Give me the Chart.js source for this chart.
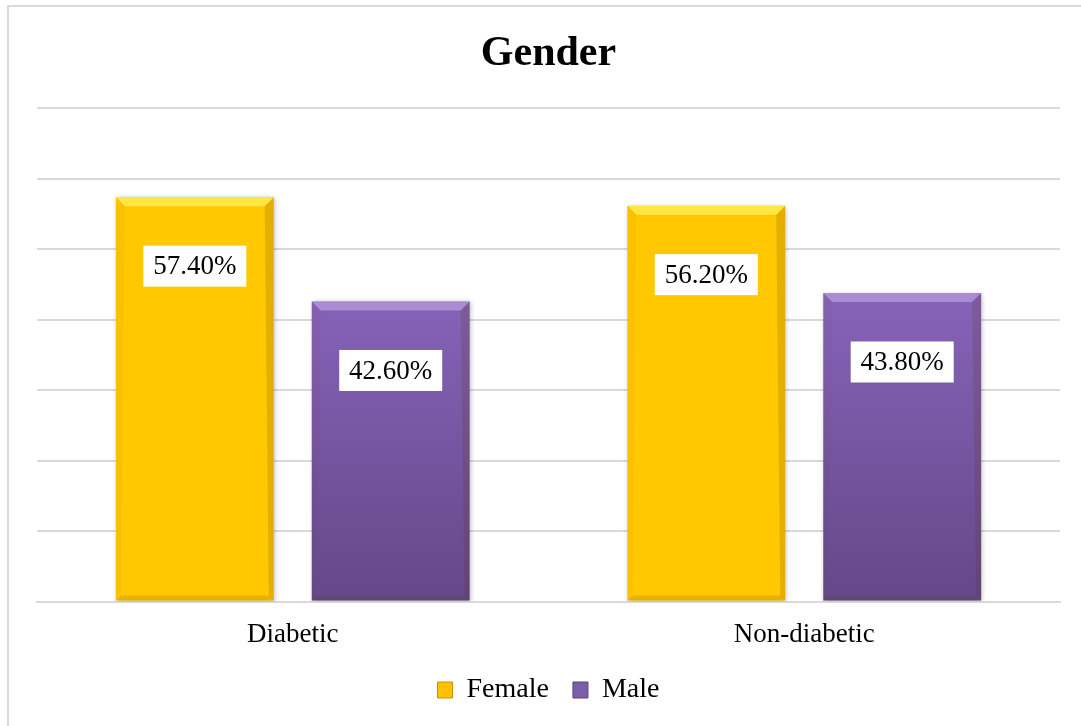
<!DOCTYPE html>
<html>
<head>
<meta charset="utf-8">
<title>Gender</title>
<script src="https://cdn.jsdelivr.net/npm/chart.js@4.4.1/dist/chart.umd.min.js"></script>
<style>
  html, body { margin: 0; padding: 0; background: #fff; }
  #wrap { width: 1081px; height: 726px; }
</style>
</head>
<body>
<div id="wrap"><canvas id="grafico"></canvas></div>
<script>
const categorias = ['Diabetic', 'Non-diabetic'];
const femenino = [57.4, 56.2];
const masculino = [42.6, 43.8];
const escalaMax = 70;
const escalaPaso = 10;

const fuente = '"Liberation Serif", "Times New Roman", serif';

// degradado vertical de las barras moradas
function degradadoMorado(ctx) {
  const chart = ctx.chart;
  const area = chart.chartArea;
  if (!area) return '#7a5ea8';
  const arriba = chart.scales.y.getPixelForValue(Math.max(...masculino));
  const g = chart.ctx.createLinearGradient(0, arriba, 0, area.bottom);
  g.addColorStop(0, '#8763b9');
  g.addColorStop(1, '#644889');
  return g;
}

// marco gris alrededor del grafico
const marco = {
  id: 'marco',
  beforeDraw(chart) {
    const c = chart.ctx;
    c.save();
    c.strokeStyle = '#d9d9d9';
    c.lineWidth = 2;
    c.strokeRect(8, 6, chart.width + 20, chart.height + 20);
    c.restore();
  }
};

// sombra suave bajo cada barra
const sombra = {
  id: 'sombra',
  beforeDatasetDraw(chart) {
    const c = chart.ctx;
    c.save();
    c.shadowColor = 'rgba(0,0,0,0.28)';
    c.shadowBlur = 5;
    c.shadowOffsetX = 1;
    c.shadowOffsetY = 1;
  },
  afterDatasetDraw(chart) {
    chart.ctx.restore();
  }
};

// bisel en los bordes de las barras y etiquetas con el valor
const biselEtiquetas = {
  id: 'biselEtiquetas',
  afterDatasetsDraw(chart) {
    const c = chart.ctx;
    chart.data.datasets.forEach((ds, i) => {
      const meta = chart.getDatasetMeta(i);
      meta.data.forEach((bar, j) => {
        const p = bar.getProps(['x', 'y', 'width', 'base'], true);
        const l = p.x - p.width / 2, r = p.x + p.width / 2;
        const t = p.y, b = p.base;
        const bt = 9, bs = 5;
        c.save();
        // arriba
        c.fillStyle = i === 0 ? 'rgba(255,240,90,0.75)' : 'rgba(200,175,235,0.55)';
        c.beginPath();
        c.moveTo(l, t); c.lineTo(r, t); c.lineTo(r - bt, t + bt); c.lineTo(l + bt, t + bt); c.closePath();
        c.fill();
        // derecha
        c.fillStyle = 'rgba(90,50,0,0.16)';
        c.beginPath();
        c.moveTo(r, t); c.lineTo(r, b); c.lineTo(r - bs, b - bs); c.lineTo(r - bt, t + bt); c.closePath();
        c.fill();
        // izquierda
        c.fillStyle = 'rgba(90,50,0,0.04)';
        c.beginPath();
        c.moveTo(l, t); c.lineTo(l + bt, t + bt); c.lineTo(l + bs, b - bs); c.lineTo(l, b); c.closePath();
        c.fill();
        // abajo
        c.fillStyle = 'rgba(90,50,0,0.14)';
        c.beginPath();
        c.moveTo(l, b); c.lineTo(l + bs, b - bs); c.lineTo(r - bs, b - bs); c.lineTo(r, b); c.closePath();
        c.fill();

        // etiqueta
        const texto = ds.data[j].toFixed(2) + '%';
        const cy = t + 69;
        c.fillStyle = '#ffffff';
        c.fillRect(p.x - 51.5, cy - 20.5, 103, 41);
        c.fillStyle = '#000000';
        c.font = '27px ' + fuente;
        c.textAlign = 'center';
        c.textBaseline = 'middle';
        c.fillText(texto, p.x, cy + 1);
        c.restore();
      });
    });
  }
};

new Chart(document.getElementById('grafico'), {
  type: 'bar',
  data: {
    labels: categorias,
    datasets: [
      {
        label: 'Female',
        data: femenino,
        backgroundColor: '#ffc800',
        borderWidth: 0,
        categoryPercentage: 0.766,
        barPercentage: 0.806,
      },
      {
        label: 'Male',
        data: masculino,
        backgroundColor: degradadoMorado,
        borderWidth: 0,
        categoryPercentage: 0.766,
        barPercentage: 0.806,
      },
    ],
  },
  options: {
    responsive: true,
    maintainAspectRatio: false,
    animation: false,
    layout: {
      padding: { left: 37, right: 21, top: 0, bottom: 12 },
    },
    scales: {
      x: {
        grid: { display: false, drawTicks: false },
        border: { display: true, color: '#d9d9d9', width: 2 },
        ticks: {
          color: '#000',
          padding: 17,
          font: { family: fuente, size: 27 },
        },
        afterFit(scale) {
          scale.height -= 16;
        },
      },
      y: {
        min: 0,
        max: escalaMax,
        ticks: { display: false, stepSize: escalaPaso },
        grid: { color: '#d9d9d9', lineWidth: 2, drawTicks: false },
        border: { display: false },
      },
    },
    plugins: {
      title: {
        display: true,
        text: 'Gender',
        color: '#000',
        font: { family: fuente, size: 42, weight: 'bold' },
        padding: { top: 29, bottom: 29 },
      },
      legend: {
        position: 'bottom',
        labels: {
          color: '#000',
          font: { family: fuente, size: 28 },
          boxWidth: 15,
          boxHeight: 16,
          padding: 24,
          generateLabels(chart) {
            const colores = ['#ffc000', '#7a5ea8'];
            return chart.data.datasets.map((ds, i) => ({
              text: ds.label,
              fillStyle: colores[i],
              strokeStyle: i === 0 ? '#c99400' : '#5a437c',
              lineWidth: 1,
              hidden: false,
              datasetIndex: i,
            }));
          },
        },
      },
      tooltip: { enabled: false },
    },
  },
  plugins: [marco, sombra, biselEtiquetas],
});
</script>
</body>
</html>
